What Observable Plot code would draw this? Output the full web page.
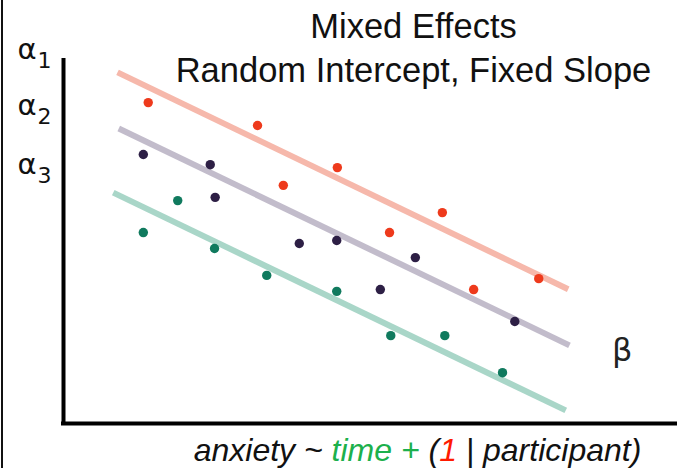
<!DOCTYPE html>
<html>
<head>
<meta charset="utf-8">
<script src="https://cdn.jsdelivr.net/npm/d3@7"></script>
<script src="https://cdn.jsdelivr.net/npm/@observablehq/plot@0.6"></script>
<style>
  html, body { margin: 0; padding: 0; background: #fff; }
  #wrap { position: relative; width: 677px; height: 468px; overflow: hidden; background: #fff; }
  #border { position: absolute; left: 1px; top: 0; width: 2px; height: 468px; background: #111; }
  #caption { position: absolute; left: 0; width: 677px; top: 434px; height: 34px; text-align: center;
    font-family: "Liberation Sans", Arial, sans-serif; font-style: italic; font-size: 32px; line-height: 32px;
    padding-left: 158px; box-sizing: border-box; white-space: nowrap; color: #111; }
  #caption .g { color: #1cb04c; }
  #caption .r { color: #ff1a00; }
</style>
</head>
<body>
<div id="wrap">
  <div id="chart"></div>
  <div id="border"></div>
  <div id="caption">anxiety ~ <span class="g">time +</span> (<span class="r">1</span> | participant)</div>
</div>
<script>
// Participants
const participants = ["P1", "P2", "P3"];
const pointColors = ["#ee3a1c", "#2d1f45", "#107a5e"];
const lineColors = ["#f6b8ab", "#c2bccb", "#a9d6c8"];

// Observations (time, anxiety) per participant
const timeP1 = [1.38, 3.16, 3.58, 4.46, 5.31, 6.17, 6.68, 7.74];
const anxP1  = [8.84, 8.21, 6.56, 7.05, 5.26, 5.81, 3.69, 3.99];
const timeP2 = [1.30, 2.39, 2.47, 3.84, 4.45, 5.16, 5.73, 7.35];
const anxP2  = [7.41, 7.13, 6.23, 4.96, 5.04, 3.69, 4.57, 2.81];
const timeP3 = [1.30, 1.86, 2.46, 3.31, 4.45, 5.33, 6.21, 7.15];
const anxP3  = [5.26, 6.14, 4.82, 4.08, 3.64, 2.42, 2.42, 1.40];

// Model: random intercepts, fixed slope
const intercepts = [10.39, 8.86, 7.02];
const slope = -0.814;
const lineStart = [0.88, 0.90, 0.81];
const lineEnd = [8.22, 8.24, 8.18];

// Labels
const alphaSymbol = "α";
const alphaIndex = ["1", "2", "3"];
const alphaY = [10.30, 8.76, 7.13];
const alphaIndexY = [9.99, 8.45, 6.82];
const betaLabel = "β";
const titleText = "Mixed Effects\nRandom Intercept, Fixed Slope";

const times = [timeP1, timeP2, timeP3];
const anxs = [anxP1, anxP2, anxP3];
const points = participants.flatMap((p, i) => times[i].map((t, j) => ({p, time: t, anxiety: anxs[i][j]})));
const fitted = participants.flatMap((p, i) => [lineStart[i], lineEnd[i]].map(t => ({p, time: t, anxiety: intercepts[i] + slope * t})));
const alphas = alphaIndex.map((k, i) => ({sym: alphaSymbol, k, y: alphaY[i], yk: alphaIndexY[i]}));

const chart = Plot.plot({
  width: 677,
  height: 432,
  marginLeft: 63,
  marginRight: 0,
  marginTop: 60,
  marginBottom: 9,
  x: {domain: [0, 10], axis: null},
  y: {domain: [0, 10], axis: null},
  color: {domain: participants, range: pointColors},
  style: {background: "transparent", overflow: "visible"},
  marks: [
    Plot.line(fitted, {x: "time", y: "anxiety", z: "p", stroke: d => lineColors[participants.indexOf(d.p)], strokeWidth: 6, strokeLinecap: "butt"}),
    Plot.dot(points, {x: "time", y: "anxiety", fill: "p", r: 4.7, stroke: null}),
    Plot.ruleX([0], {stroke: "#000", strokeWidth: 4, strokeLinecap: "square"}),
    Plot.ruleY([0], {stroke: "#000", strokeWidth: 4, strokeLinecap: "square"}),
    Plot.text(alphas, {x: 0, y: "y", text: "sym", textAnchor: "end", dx: -27, fontSize: 29, fill: "#111", fontFamily: "DejaVu Sans"}),
    Plot.text(alphas, {x: 0, y: "yk", text: "k", textAnchor: "start", dx: -26, fontSize: 22, fill: "#111", fontFamily: "DejaVu Sans"}),
    Plot.text([betaLabel], {x: 9.1, y: 2.0, text: d => d, fontSize: 32, fill: "#222", fontFamily: "DejaVu Sans"}),
    Plot.text([titleText], {frameAnchor: "top", dx: 43, dy: -54, lineAnchor: "top", lineHeight: 1.28, text: d => d, fontSize: 34.5, fill: "#111", fontFamily: "Liberation Sans"})
  ]
});
document.getElementById("chart").appendChild(chart);
</script>
</body>
</html>
